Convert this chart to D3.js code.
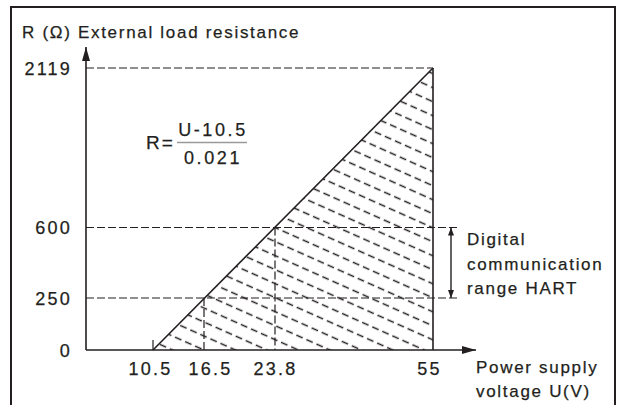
<!DOCTYPE html>
<html>
<head>
<meta charset="utf-8">
<script src="https://cdn.jsdelivr.net/npm/d3@7"></script>
<style>
  body { margin: 0; background: #fff; }
  text { font-family: "Liberation Sans", Arial, sans-serif; fill: #231f20; stroke: #231f20; stroke-width: 0.25px; }
</style>
</head>
<body>
<div id="container"></div>
<script>
// chart values
const voltageTicks = [10.5, 16.5, 23.8, 55];
const resistanceTicks = [0, 250, 600, 2119];
// operating limit: R = (U - 10.5) / 0.021
const limitU = [10.5, 55];
const limitR = [0, 2119];
// marked points on the limit line
const markU = [16.5, 23.8];
const markR = [250, 600];
// HART range
const hartRange = [250, 600];
const hartLabel = ["Digital", "communication", "range HART"];

const width = 619, height = 405;
const ink = "#231f20";

const svg = d3
  .select("#container")
  .append("svg")
  .attr("width", width)
  .attr("height", height);

// drawing is not to scale, so the axes are piecewise linear
const x = d3.scaleLinear()
  .domain([0, 10.5, 16.5, 23.8, 55])
  .range([86, 153, 204, 275, 433]);
const y = d3.scaleLinear()
  .domain([0, 250, 600, 2119])
  .range([350, 298, 227.5, 68]);

const defs = svg.append("defs");

// hatch pattern for the working area
const hatch = defs.append("pattern")
  .attr("id", "hatch")
  .attr("patternUnits", "userSpaceOnUse")
  .attr("width", 110)
  .attr("height", 12.8)
  .attr("patternTransform", "rotate(24)");
hatch.append("line")
  .attr("x1", 0).attr("x2", 110)
  .attr("y1", 6.4).attr("y2", 6.4)
  .attr("stroke", ink)
  .attr("stroke-width", 1.6)
  .attr("stroke-dasharray", "7,4");

function arrowMarker(id, w, h) {
  defs.append("marker")
    .attr("id", id)
    .attr("viewBox", `0 0 ${h} ${w}`)
    .attr("refX", h)
    .attr("refY", w / 2)
    .attr("markerWidth", h)
    .attr("markerHeight", w)
    .attr("markerUnits", "userSpaceOnUse")
    .attr("orient", "auto-start-reverse")
    .append("path")
    .attr("d", `M0,0L${h},${w / 2}L0,${w}Z`)
    .attr("fill", ink);
}
arrowMarker("axisArrow", 8, 14);
arrowMarker("smallArrow", 6, 8);

// frame
svg.append("rect")
  .attr("x", 11).attr("y", 7)
  .attr("width", 604).attr("height", 430)
  .attr("fill", "none")
  .attr("stroke", ink)
  .attr("stroke-width", 2);

// hatched triangle
const tri = [
  [x(limitU[0]), y(limitR[0])],
  [x(limitU[1]), y(limitR[0])],
  [x(limitU[1]), y(limitR[1])]
];
svg.append("path")
  .attr("d", d3.line()(tri) + "Z")
  .attr("fill", "url(#hatch)");

// dashed guide lines
const guides = svg.append("g")
  .attr("stroke", ink)
  .attr("stroke-width", 1.2)
  .attr("stroke-dasharray", "8,3")
  .attr("fill", "none");

guides.append("line")
  .attr("x1", x(0)).attr("x2", x(limitU[1]))
  .attr("y1", y(limitR[1])).attr("y2", y(limitR[1]));
guides.selectAll(".hart-guide")
  .data(hartRange)
  .enter()
  .append("line")
  .attr("x1", x(0)).attr("x2", 457)
  .attr("y1", d => y(d)).attr("y2", d => y(d));
guides.selectAll(".drop")
  .data(markU)
  .enter()
  .append("line")
  .attr("x1", d => x(d)).attr("x2", d => x(d))
  .attr("y1", (d, i) => y(markR[i])).attr("y2", y(0));

// limit line and right edge
svg.append("line")
  .attr("x1", x(limitU[0])).attr("y1", y(limitR[0]))
  .attr("x2", x(limitU[1])).attr("y2", y(limitR[1]))
  .attr("stroke", ink).attr("stroke-width", 1.6);
svg.append("line")
  .attr("x1", x(limitU[1])).attr("y1", y(0))
  .attr("x2", x(limitU[1])).attr("y2", y(limitR[1]))
  .attr("stroke", ink).attr("stroke-width", 1.6);
// small tick at the start voltage
svg.append("line")
  .attr("x1", x(limitU[0])).attr("x2", x(limitU[0]))
  .attr("y1", y(0)).attr("y2", y(0) - 10)
  .attr("stroke", ink).attr("stroke-width", 1.2);

// axes
svg.append("line")
  .attr("x1", x(0)).attr("y1", y(0))
  .attr("x2", x(0)).attr("y2", 47)
  .attr("stroke", ink).attr("stroke-width", 1.6)
  .attr("marker-end", "url(#axisArrow)");
svg.append("line")
  .attr("x1", x(0)).attr("y1", y(0))
  .attr("x2", 476).attr("y2", y(0))
  .attr("stroke", ink).attr("stroke-width", 1.6)
  .attr("marker-end", "url(#axisArrow)");

const tickStyle = sel => sel
  .attr("font-family", null)
  .attr("fill", null)
  .style("font-size", "18px")
  .style("letter-spacing", "2.2px");

const yAxis = svg.append("g")
  .attr("transform", `translate(${x(0)},0)`)
  .call(d3.axisLeft(y).tickValues(resistanceTicks).tickFormat(d => String(d))
    .tickSize(0).tickPadding(14));
yAxis.select(".domain").remove();
yAxis.selectAll("text")
  .call(tickStyle)
  .attr("dy", "0.35em");

const xAxis = svg.append("g")
  .attr("transform", `translate(0,${y(0)})`)
  .call(d3.axisBottom(x).tickValues(voltageTicks).tickFormat(d => String(d))
    .tickSize(0));
xAxis.select(".domain").remove();
// labels in the drawing sit a little off their ticks
const xNudge = [-3, 6, 0, -4];
xAxis.selectAll("text")
  .call(tickStyle)
  .attr("y", 25)
  .attr("dy", 0)
  .attr("dx", (d, i) => xNudge[i]);

// HART double arrow
svg.append("line")
  .attr("x1", 451).attr("x2", 451)
  .attr("y1", y(hartRange[0])).attr("y2", y(hartRange[1]))
  .attr("stroke", ink).attr("stroke-width", 1.4)
  .attr("marker-start", "url(#smallArrow)")
  .attr("marker-end", "url(#smallArrow)");

const labelStyle = sel => sel
  .style("font-size", "17px")
  .style("letter-spacing", "1.7px");

svg.append("g")
  .selectAll("text")
  .data(hartLabel)
  .enter()
  .append("text")
  .attr("x", 467)
  .attr("y", (d, i) => 245 + i * 24.5)
  .text(d => d)
  .call(labelStyle);

// axis titles
svg.append("text")
  .attr("x", 22).attr("y", 38)
  .text("R (\u03A9) External load resistance")
  .call(labelStyle);
svg.append("g")
  .selectAll("text")
  .data(["Power supply", "voltage U(V)"])
  .enter()
  .append("text")
  .attr("x", 476)
  .attr("y", (d, i) => 373 + i * 23.5)
  .text(d => d)
  .call(labelStyle);

// formula
const formula = svg.append("g");
formula.append("text")
  .attr("x", 146).attr("y", 149)
  .style("font-size", "19px")
  .style("letter-spacing", "2px")
  .text("R=");
formula.append("line")
  .attr("x1", 177).attr("x2", 247)
  .attr("y1", 142.5).attr("y2", 142.5)
  .attr("stroke", "#9a9a9a").attr("stroke-width", 1.5);
formula.selectAll(".frac")
  .data(["U-10.5", "0.021"])
  .enter()
  .append("text")
  .attr("x", 213)
  .attr("y", (d, i) => (i === 0 ? 135.5 : 164))
  .attr("text-anchor", "middle")
  .style("font-size", "18px")
  .style("letter-spacing", "2.6px")
  .text(d => d);
</script>
</body>
</html>
